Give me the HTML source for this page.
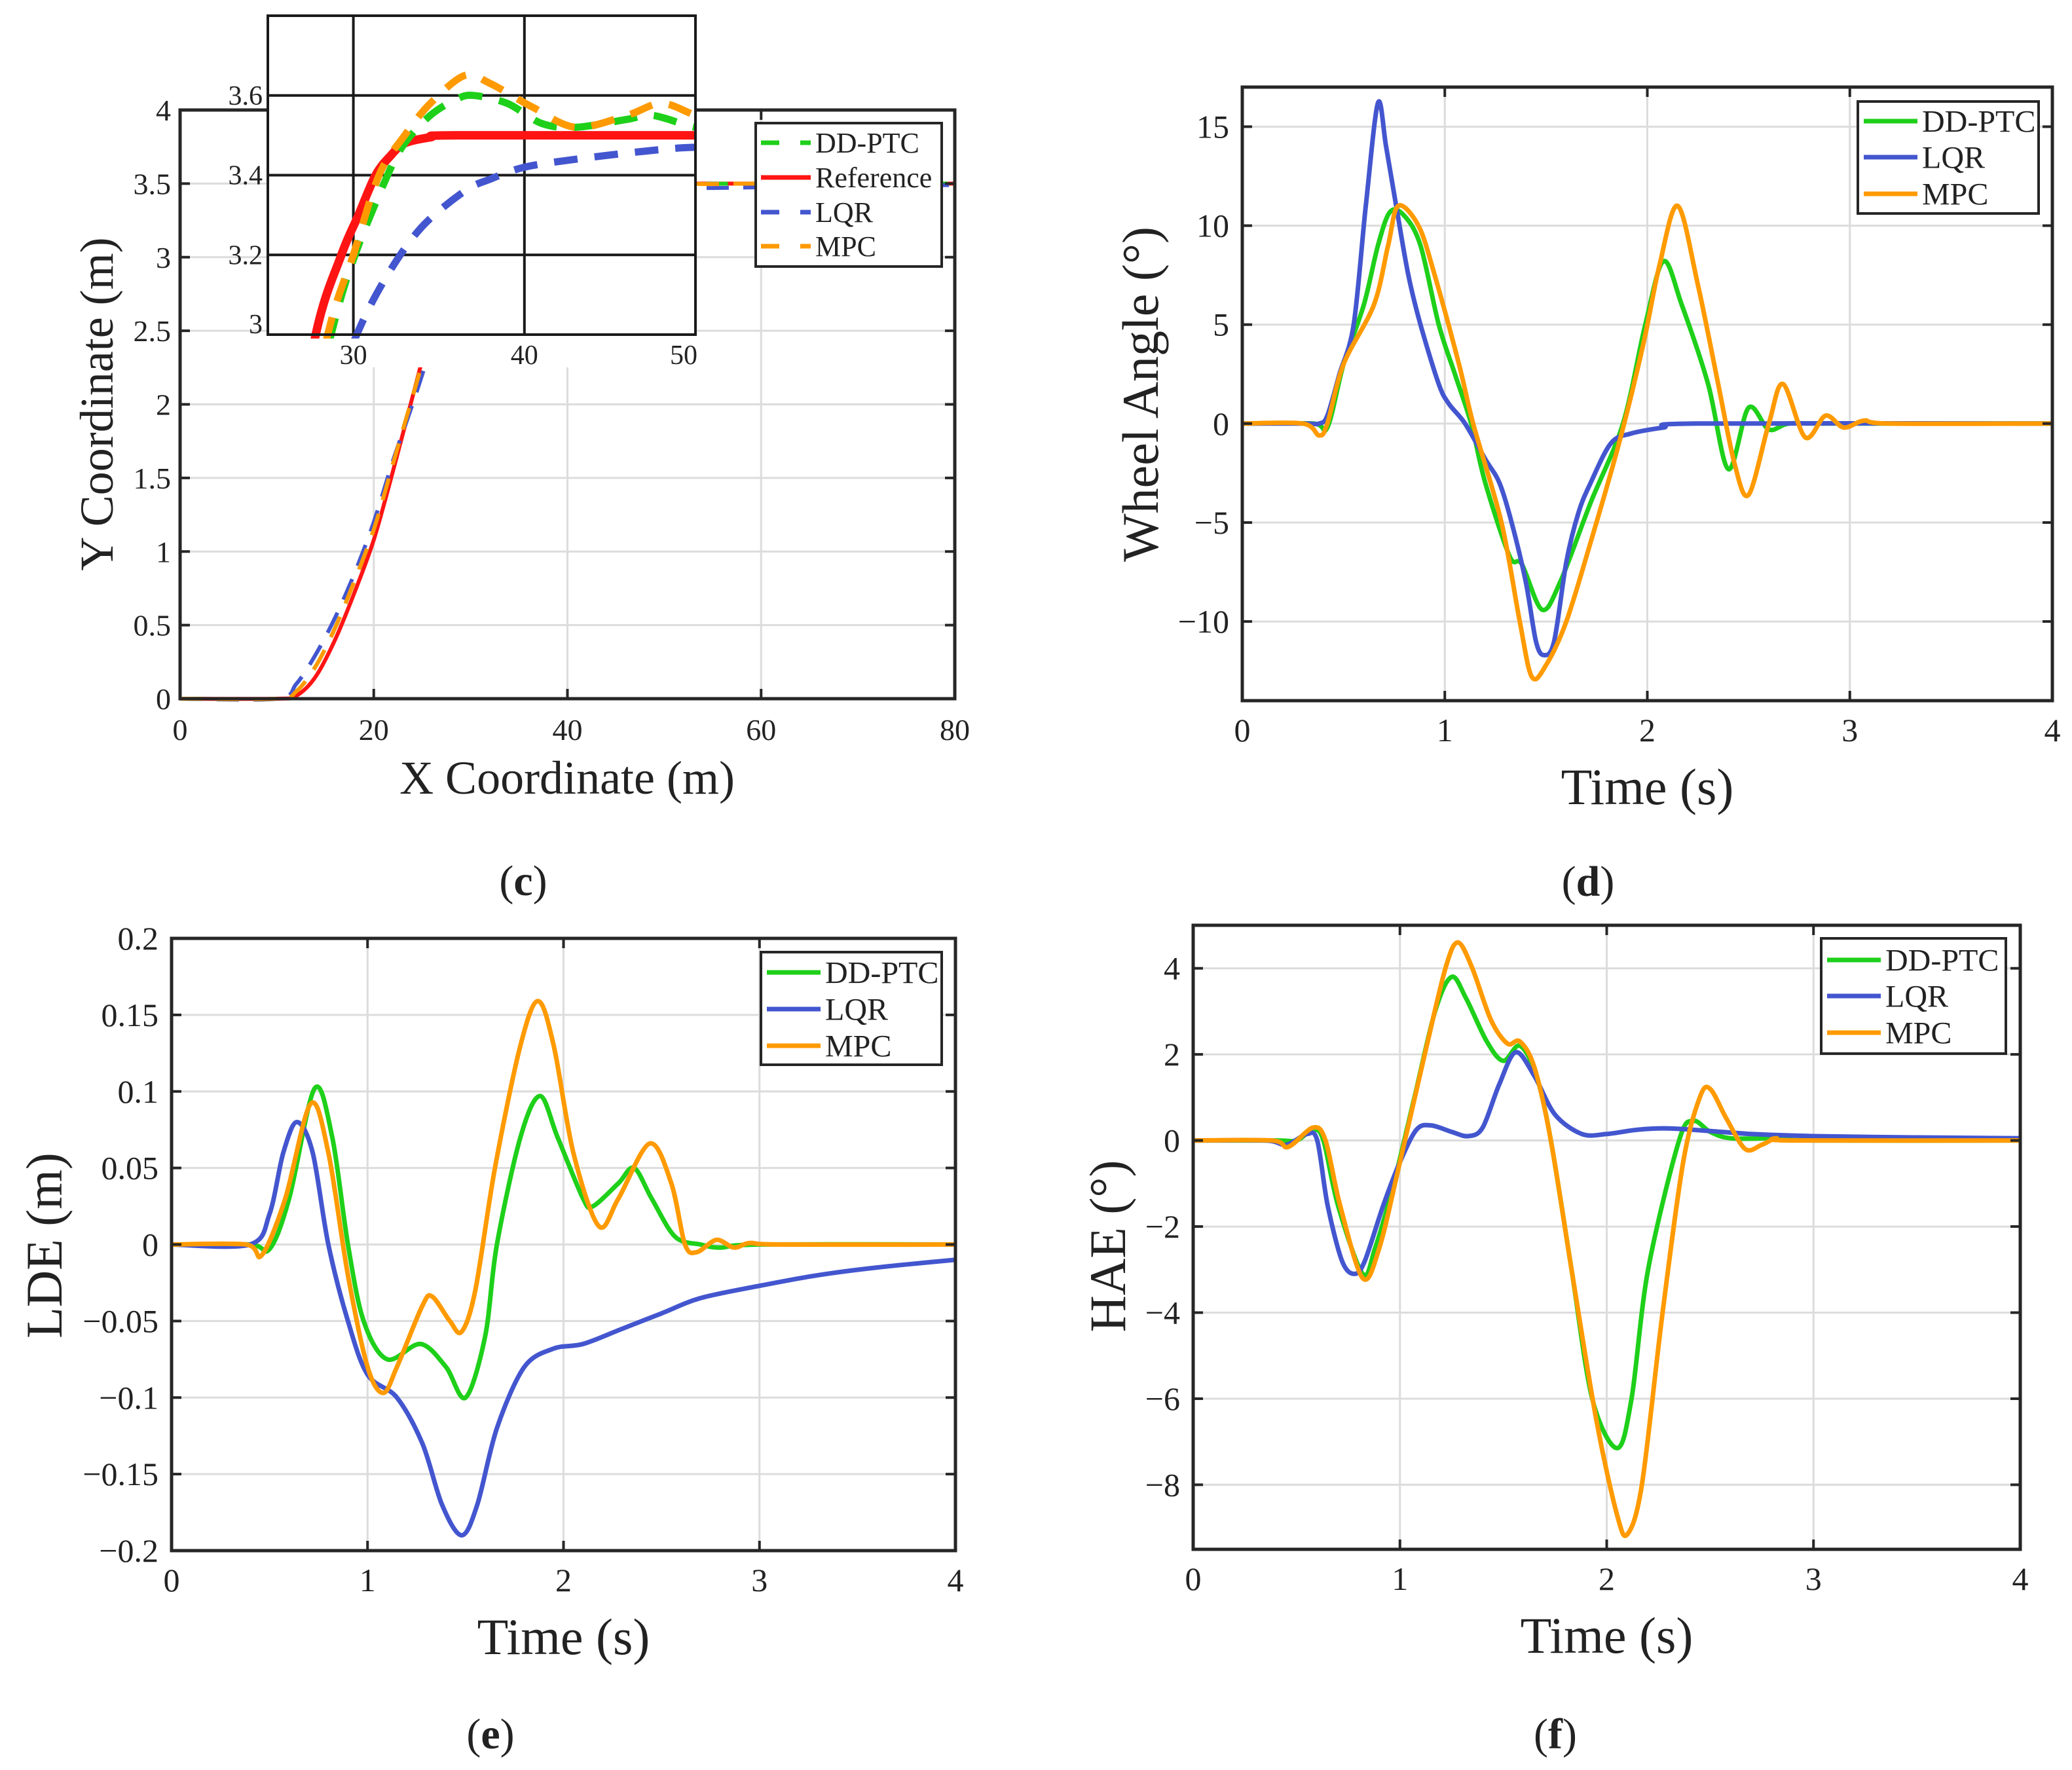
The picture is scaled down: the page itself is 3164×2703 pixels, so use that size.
<!DOCTYPE html>
<html><head><meta charset="utf-8"><style>
html,body{margin:0;padding:0;background:#fff;}
svg{display:block;}
text{font-family:"Liberation Serif",serif;fill:#222;}
</style></head><body>
<svg id="fig" width="3164" height="2703" viewBox="0 0 3164 2703" xmlns="http://www.w3.org/2000/svg"></svg>
<script>
// ---------- Panel (c) data: trajectory ----------
const cRefX=[0,10,12,14,16,18,20,22,24,26,27.8,29.3,30.3,31.3,32.2,33,34.5,36,50,80];
const cRefY=[0,0,0.02,0.15,0.4,0.72,1.08,1.55,2.05,2.55,3.0,3.2,3.3,3.4,3.45,3.48,3.495,3.5,3.5,3.5];
const cDdX=[0,10,12,14,16,18,20,22,24,26,28.7,30.1,32,33,34.5,36,37,39,41,43,46,47.5,50,53,60,80];
const cDdY=[0,0,0.05,0.22,0.48,0.8,1.15,1.6,2.05,2.5,3.0,3.2,3.4,3.48,3.55,3.59,3.6,3.58,3.53,3.52,3.54,3.55,3.52,3.5,3.5,3.5];
const cLqrX=[0,10,12,14,16,18,20,22,24,26,28,30.2,32,34,36.5,38,40,43,47,50,55,60,70,80];
const cLqrY=[0,0,0.1,0.3,0.55,0.85,1.2,1.62,2.0,2.4,2.75,3.0,3.15,3.27,3.36,3.39,3.42,3.44,3.46,3.47,3.47,3.475,3.485,3.49];
const cMpcX=[0,10,12,14,16,18,20,22,24,26,28.5,30,31.5,33,34.5,36.5,38,40.5,43,46,48,50,53,60,80];
const cMpcY=[0,0,0.05,0.22,0.48,0.8,1.15,1.6,2.05,2.5,3.0,3.2,3.4,3.5,3.58,3.65,3.63,3.57,3.52,3.55,3.58,3.55,3.5,3.5,3.5];
const cXTicks=[0,20,40,60,80];
const cYTicks=[0,0.5,1,1.5,2,2.5,3,3.5,4];
const cYTickLabels=["0","0.5","1","1.5","2","2.5","3","3.5","4"];
const insetXTicks=[30,40,50];
const insetYTicks=[3,3.2,3.4,3.6];
const insetYTickLabels=["3","3.2","3.4","3.6"];

// ---------- Panel (d) data: wheel angle ----------
const dLqrT=[0,0.3,0.38,0.42,0.48,0.55,0.61,0.67,0.71,0.76,0.82,0.88,0.97,1.02,1.1,1.2,1.27,1.33,1.4,1.45,1.49,1.54,1.6,1.66,1.72,1.82,1.92,2.08,2.25,4];
const dLqrV=[0,0,0,0.4,2.5,5,11,16.2,14,11,7.5,5,2,1,0,-1.8,-3,-5,-8,-11,-11.7,-11,-7,-4.5,-3,-1,-0.5,-0.2,0,0];
const dDdT=[0,0.35,0.42,0.5,0.6,0.67,0.73,0.8,0.88,0.97,1.05,1.13,1.2,1.32,1.38,1.48,1.57,1.72,1.88,1.99,2.08,2.17,2.3,2.4,2.5,2.6,2.7,2.9,4];
const dDdV=[0,0,-0.2,3,6,9,10.7,10.5,9,5,2.5,0,-3,-6.7,-7.1,-9.4,-8,-4,0,5,8.2,6,2,-2.3,0.8,-0.3,0,0,0];
const dMpcT=[0,0.3,0.38,0.42,0.5,0.65,0.72,0.77,0.87,0.95,1.07,1.14,1.28,1.37,1.43,1.5,1.6,1.72,1.86,1.98,2.06,2.15,2.25,2.35,2.43,2.5,2.6,2.67,2.78,2.88,2.97,3.07,3.2,4];
const dMpcV=[0,0,-0.6,0,3,6,9,11,10,7.5,3,0,-5,-10,-12.8,-12.2,-10,-6,-1,4,8,11,7,2,-2,-3.6,0,2,-0.7,0.4,-0.2,0.15,0,0];
const dXTicks=[0,1,2,3,4];
const dYTicks=[-10,-5,0,5,10,15];
const dYTickLabels=["\u221210","\u22125","0","5","10","15"];

// ---------- Panel (e) data: LDE ----------
const eLqrT=[0,0.4,0.5,0.57,0.64,0.72,0.8,0.9,1.0,1.15,1.28,1.38,1.48,1.56,1.66,1.8,1.95,2.1,2.3,2.5,2.7,3.0,3.3,3.6,4];
const eLqrV=[0,0,0.02,0.06,0.08,0.06,0,-0.05,-0.085,-0.1,-0.13,-0.17,-0.19,-0.17,-0.12,-0.08,-0.068,-0.065,-0.055,-0.045,-0.035,-0.027,-0.02,-0.015,-0.01];
const eDdT=[0,0.4,0.5,0.6,0.73,0.82,0.9,0.98,1.1,1.27,1.4,1.5,1.6,1.66,1.78,1.88,1.97,2.1,2.15,2.28,2.36,2.45,2.57,2.7,2.8,3.0,4];
const eDdV=[0,0,-0.003,0.03,0.102,0.07,0,-0.05,-0.075,-0.065,-0.08,-0.1,-0.06,0,0.07,0.097,0.07,0.03,0.025,0.04,0.05,0.03,0.005,0,-0.002,0,0];
const eMpcT=[0,0.38,0.46,0.58,0.71,0.8,0.9,1.0,1.08,1.15,1.28,1.33,1.42,1.48,1.55,1.65,1.78,1.87,1.95,2.05,2.18,2.28,2.44,2.55,2.62,2.68,2.78,2.87,2.95,3.1,4];
const eMpcV=[0,0,-0.007,0.03,0.092,0.06,-0.02,-0.08,-0.097,-0.08,-0.04,-0.034,-0.05,-0.057,-0.03,0.05,0.13,0.159,0.13,0.06,0.012,0.03,0.066,0.04,0,-0.005,0.003,-0.002,0.001,0,0];
const eXTicks=[0,1,2,3,4];
const eYTicks=[-0.2,-0.15,-0.1,-0.05,0,0.05,0.1,0.15,0.2];
const eYTickLabels=["\u22120.2","\u22120.15","\u22120.1","\u22120.05","0","0.05","0.1","0.15","0.2"];

// ---------- Panel (f) data: HAE ----------
const fLqrT=[0,0.35,0.45,0.55,0.6,0.65,0.72,0.78,0.83,0.92,1.0,1.08,1.15,1.25,1.33,1.4,1.48,1.56,1.65,1.75,1.88,2.0,2.15,2.3,2.5,2.7,3.0,3.5,4];
const fLqrV=[0,0,-0.1,0.15,0,-1.5,-2.8,-3.1,-2.8,-1.5,-0.5,0.25,0.35,0.2,0.1,0.3,1.3,2.05,1.5,0.6,0.15,0.15,0.25,0.28,0.22,0.15,0.1,0.07,0.05];
const fDdT=[0,0.4,0.5,0.58,0.63,0.7,0.82,0.88,0.97,1.07,1.17,1.25,1.32,1.42,1.5,1.58,1.66,1.73,1.83,1.93,2.05,2.12,2.2,2.35,2.42,2.5,2.6,2.8,3.0,4];
const fDdV=[0,0,0,0.25,0,-1.5,-3.1,-2.5,-1,1,3,3.8,3.3,2.3,1.85,2.2,1.5,0,-3,-6,-7.15,-6,-3,0,0.45,0.2,0.05,0.05,0,0];
const fMpcT=[0,0.38,0.46,0.58,0.64,0.71,0.82,0.9,1.0,1.12,1.22,1.28,1.35,1.44,1.52,1.58,1.65,1.73,1.83,1.95,2.05,2.1,2.17,2.27,2.37,2.45,2.5,2.58,2.67,2.75,2.82,2.9,4];
const fMpcV=[0,0,-0.15,0.3,0,-1.5,-3.2,-2.5,-0.5,2,4,4.6,4,2.8,2.25,2.3,1.7,0,-3,-6.5,-8.7,-9.15,-8,-4,-0.5,1,1.2,0.5,-0.2,-0.1,0.05,0,0];
const fXTicks=[0,1,2,3,4];
const fYTicks=[-8,-6,-4,-2,0,2,4];
const fYTickLabels=["\u22128","\u22126","\u22124","\u22122","0","2","4"];

const GREEN="#1ed01a", BLUE="#4356cf", ORANGE="#ff9a00", RED="#ff1414", AX="#262626", GRID="#dcdcdc";
const NS="http://www.w3.org/2000/svg";
const fig=document.getElementById('fig');
let clipId=0;

function mk(tag,attrs,parent){const e=document.createElementNS(NS,tag);for(const k in attrs)e.setAttribute(k,attrs[k]);(parent||fig).appendChild(e);return e;}
function txt(s,attrs,parent){const t=mk('text',attrs,parent);t.textContent=s;return t;}
function smoothPath(xs,ys,sx,sy){
  const P=xs.map((x,i)=>[sx(x),sy(ys[i])]);
  let d="M"+P[0][0].toFixed(1)+","+P[0][1].toFixed(1);
  for(let i=0;i<P.length-1;i++){
    const p0=P[Math.max(0,i-1)],p1=P[i],p2=P[i+1],p3=P[Math.min(P.length-1,i+2)];
    const t=0.16;
    const c1=[p1[0]+(p2[0]-p0[0])*t,p1[1]+(p2[1]-p0[1])*t];
    const c2=[p2[0]-(p3[0]-p1[0])*t,p2[1]-(p3[1]-p1[1])*t];
    d+=" C"+c1[0].toFixed(1)+","+c1[1].toFixed(1)+" "+c2[0].toFixed(1)+","+c2[1].toFixed(1)+" "+p2[0].toFixed(1)+","+p2[1].toFixed(1);
  }
  return d;
}
function axesFrame(g,L,T,R,B,sx,sy,xt,yt,tickLen,gridColor,gridW){
  const gg=mk('g',{},g);
  
  
  xt.forEach(v=>{if(sx(v)>L+2&&sx(v)<R-2)mk('line',{x1:sx(v),x2:sx(v),y1:T,y2:B,stroke:gridColor,'stroke-width':gridW},gg);});
  yt.forEach(v=>{if(sy(v)>T+2&&sy(v)<B-2)mk('line',{x1:L,x2:R,y1:sy(v),y2:sy(v),stroke:gridColor,'stroke-width':gridW},gg);});
}
function ticks(g,L,T,R,B,sx,sy,xt,yt,len){
  const tg=mk('g',{},g);
  
  
  xt.forEach(v=>{const x=sx(v);mk('line',{x1:x,x2:x,y1:B,y2:B-len,stroke:AX,'stroke-width':4},tg);mk('line',{x1:x,x2:x,y1:T,y2:T+len,stroke:AX,'stroke-width':4},tg);});
  yt.forEach(v=>{const y=sy(v);mk('line',{x1:L,x2:L+len,y1:y,y2:y,stroke:AX,'stroke-width':4},tg);mk('line',{x1:R,x2:R-len,y1:y,y2:y,stroke:AX,'stroke-width':4},tg);});
}
function series(g,xs,ys,sx,sy,color,w,dash,clip,name){
  const p=mk('path',{d:smoothPath(xs,ys,sx,sy),fill:'none',stroke:color,'stroke-width':w,'stroke-linejoin':'round'},g);
  if(dash)p.setAttribute('stroke-dasharray',dash);
  if(clip)p.setAttribute('clip-path','url(#'+clip+')');
  
  
  return p;
}
function clipRect(L,T,R,B){const id='clip'+(clipId++);const cp=mk('clipPath',{id:id});mk('rect',{x:L,y:T-6,width:R-L,height:B-T+12},cp);return id;}
function legend(g,x,y,w,h,entries,rowY,lineX1,lineX2,textX,fs){
  const lg=mk('g',{},g);
  
  
  mk('rect',{x:x,y:y,width:w,height:h,fill:'#fff',stroke:AX,'stroke-width':4},lg);
  entries.forEach((e,i)=>{
    const eg=mk('g',{},lg);
    
    
    mk('line',{x1:lineX1,x2:lineX2,y1:rowY[i],y2:rowY[i],stroke:e.color,'stroke-width':7,'stroke-dasharray':e.dash||'none'},eg);
    txt(e.label,{x:textX,y:rowY[i]+fs*0.34,'font-size':fs,fill:'#111'},eg);
  });
}

function timePanel(cfg){
  const g=mk('g',{});
  
  
  const {L,T,R,B,x0,x1,y0,y1}=cfg;
  const sx=v=>L+(v-x0)/(x1-x0)*(R-L);
  const sy=v=>B-(v-y0)/(y1-y0)*(B-T);
  axesFrame(g,L,T,R,B,sx,sy,cfg.xt,cfg.yt,15,GRID,3);
  const cid=clipRect(L,T,R,B);
  cfg.series.forEach(s=>series(g,s.x,s.y,sx,sy,s.color,7,null,cid,s.name));
  mk('rect',{x:L,y:T,width:R-L,height:B-T,fill:'none',stroke:AX,'stroke-width':5},g);
  ticks(g,L,T,R,B,sx,sy,cfg.xt,cfg.yt,15);
  const xl=mk('g',{},g);
  
  
  cfg.xt.forEach(v=>txt(String(v),{x:sx(v),y:B+62,'text-anchor':'middle','font-size':50},xl));
  const yl=mk('g',{},g);
  
  
  cfg.yt.forEach((v,i)=>txt(cfg.ytl[i],{x:L-20,y:sy(v)+17,'text-anchor':'end','font-size':50},yl));
  const xt=txt('Time (s)',{x:(L+R)/2,y:B+158,'text-anchor':'middle','font-size':78},g);
  
  
  const yt=txt(cfg.ytitle,{x:0,y:0,'text-anchor':'middle','font-size':78,transform:'translate('+cfg.ytx+','+cfg.yty+') rotate(-90)'},g);
  
  
  legend(g,cfg.lg.x,cfg.lg.y,cfg.lg.w,cfg.lg.h,[{label:'DD-PTC',color:GREEN},{label:'LQR',color:BLUE},{label:'MPC',color:ORANGE}],cfg.lg.rows,cfg.lg.x+9,cfg.lg.x+91,cfg.lg.x+98,48);
  const pl=txt('',{x:cfg.plx,y:cfg.ply,'text-anchor':'middle','font-size':66},g);
  pl.innerHTML='(<tspan font-weight="bold">'+cfg.plabel+'</tspan>)';
  
  
}

// ---------- Panel (c) ----------
(function(){
  const g=mk('g',{});
  
  
  const L=275,T=168,R=1458,B=1067;
  const sx=v=>L+v/80*(R-L), sy=v=>B-v/4*(B-T);
  axesFrame(g,L,T,R,B,sx,sy,cXTicks,cYTicks,15,GRID,3);
  const cid=clipRect(L,T,R,B);
  series(g,cRefX,cRefY,sx,sy,RED,6,null,cid,'reference-line');
  series(g,cDdX,cDdY,sx,sy,GREEN,6,'34 22',cid,'dd-ptc-line');
  series(g,cLqrX,cLqrY,sx,sy,BLUE,6,'34 22',cid,'lqr-line');
  series(g,cMpcX,cMpcY,sx,sy,ORANGE,6,'34 22',cid,'mpc-line');
  mk('rect',{x:L,y:T,width:R-L,height:B-T,fill:'none',stroke:AX,'stroke-width':5},g);
  ticks(g,L,T,R,B,sx,sy,cXTicks,cYTicks,15);
  const xl=mk('g',{},g);
  
  
  cXTicks.forEach(v=>txt(String(v),{x:sx(v),y:1130,'text-anchor':'middle','font-size':46},xl));
  const yl=mk('g',{},g);
  
  
  cYTicks.forEach((v,i)=>txt(cYTickLabels[i],{x:L-14,y:sy(v)+16,'text-anchor':'end','font-size':46},yl));
  const xt=txt('X Coordinate (m)',{x:866,y:1212,'text-anchor':'middle','font-size':72},g);
  
  
  const yt=txt('Y Coordinate (m)',{x:0,y:0,'text-anchor':'middle','font-size':72,transform:'translate(172,617) rotate(-90)'},g);
  
  
  // inset
  const ig=mk('g',{},g);
  
  
  const iL=409,iT=24,iR=1062,iB=511;
  const isx=v=>iL+(v-25)/25*(iR-iL), isy=v=>iB-(v-3)/0.8*(iB-iT);
  mk('rect',{x:iL,y:iT,width:iR-iL,height:iB-iT+50,fill:'#fff'},ig);
  axesFrame(ig,iL,iT,iR,iB,isx,isy,insetXTicks,insetYTicks,0,'#1a1a1a',4);
  const icid=clipRect(iL,iT,iR,iB);
  series(ig,cRefX,cRefY,isx,isy,RED,13,null,icid,'inset-reference-line');
  series(ig,cDdX,cDdY,isx,isy,GREEN,11,'36 26',icid,'inset-dd-ptc-line');
  series(ig,cLqrX,cLqrY,isx,isy,BLUE,11,'36 26',icid,'inset-lqr-line');
  series(ig,cMpcX,cMpcY,isx,isy,ORANGE,11,'36 26',icid,'inset-mpc-line');
  mk('rect',{x:iL,y:iT,width:iR-iL,height:iB-iT,fill:'none',stroke:'#1a1a1a','stroke-width':4},ig);
  insetXTicks.forEach(v=>txt(String(v),{x:Math.min(isx(v),iR-18),y:556,'text-anchor':'middle','font-size':42},ig));
  insetYTicks.forEach((v,i)=>txt(insetYTickLabels[i],{x:iL-8,y:Math.min(isy(v)+14,iB-2),'text-anchor':'end','font-size':42},ig));
  legend(g,1154,188,284,219,[{label:'DD-PTC',color:GREEN,dash:'28 32'},{label:'Reference',color:RED},{label:'LQR',color:BLUE,dash:'28 32'},{label:'MPC',color:ORANGE,dash:'28 32'}],[218,271,324,376],1162,1238,1245,44);
  const pl=txt('',{x:799,y:1367,'text-anchor':'middle','font-size':66},g);
  pl.innerHTML='(<tspan font-weight="bold">c</tspan>)';
  
  
})();

timePanel({name:'panel-d-wheel-angle',L:1897,T:133,R:3134,B:1070,x0:0,x1:4,y0:-14,y1:17,xt:dXTicks,yt:dYTicks,ytl:dYTickLabels,
  series:[{x:dDdT,y:dDdV,color:GREEN,name:'dd-ptc-line'},{x:dLqrT,y:dLqrV,color:BLUE,name:'lqr-line'},{x:dMpcT,y:dMpcV,color:ORANGE,name:'mpc-line'}],
  ytitle:'Wheel Angle (°)',ytx:1768,yty:602,lg:{x:2837,y:155,w:276,h:171,rows:[185,240,296]},plabel:'d',plx:2425,ply:1368});
timePanel({name:'panel-e-lde',L:262,T:1433,R:1459,B:2368,x0:0,x1:4,y0:-0.2,y1:0.2,xt:eXTicks,yt:eYTicks,ytl:eYTickLabels,
  series:[{x:eDdT,y:eDdV,color:GREEN,name:'dd-ptc-line'},{x:eLqrT,y:eLqrV,color:BLUE,name:'lqr-line'},{x:eMpcT,y:eMpcV,color:ORANGE,name:'mpc-line'}],
  ytitle:'LDE (m)',ytx:94,yty:1902,lg:{x:1162,y:1454,w:276,h:172,rows:[1485,1541,1597]},plabel:'e',plx:749,ply:2670});
timePanel({name:'panel-f-hae',L:1822,T:1413,R:3085,B:2366,x0:0,x1:4,y0:-9.5,y1:5,xt:fXTicks,yt:fYTicks,ytl:fYTickLabels,
  series:[{x:fDdT,y:fDdV,color:GREEN,name:'dd-ptc-line'},{x:fLqrT,y:fLqrV,color:BLUE,name:'lqr-line'},{x:fMpcT,y:fMpcV,color:ORANGE,name:'mpc-line'}],
  ytitle:'HAE (°)',ytx:1718,yty:1903,lg:{x:2781,y:1433,w:282,h:176,rows:[1466,1521,1577]},plabel:'f',plx:2375,ply:2670});
</script>
</body></html>
